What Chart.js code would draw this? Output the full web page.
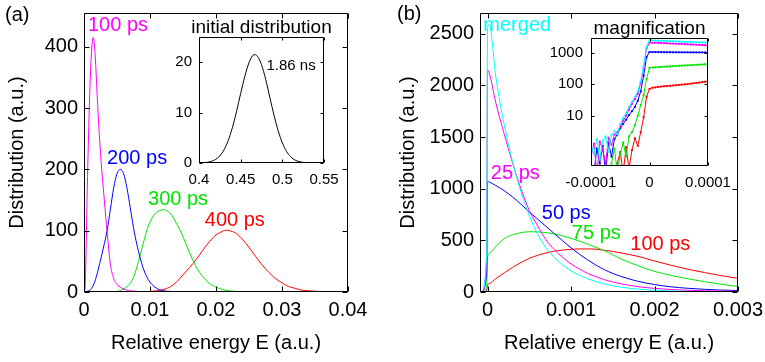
<!DOCTYPE html>
<html>
<head>
<meta charset="utf-8">
<title>Relative energy distributions</title>
<script src="https://cdn.jsdelivr.net/npm/chart.js@4.4.1/dist/chart.umd.min.js"></script>
<style>
  body { margin: 0; background: #fff; }
  #wrap { position: relative; width: 765px; height: 362px; overflow: hidden; }
  canvas { position: absolute; }
</style>
</head>
<body>
<div id="wrap">
  <canvas id="mainA" width="380" height="362" style="left:0;top:0"></canvas>
  <canvas id="mainB" width="385" height="362" style="left:380px;top:0"></canvas>
  <canvas id="insetA" width="200" height="180" style="left:150px;top:10px"></canvas>
  <canvas id="insetB" width="200" height="180" style="left:540px;top:10px"></canvas>
</div>
<script>
// ---- panel (a): distributions after 100..400 ps ----
const aX100 = [0, 0.0001, 0.0002, 0.0003, 0.0005, 0.0008, 0.0011, 0.0014, 0.0017, 0.002, 0.0023, 0.0027, 0.003, 0.0034, 0.0037, 0.004, 0.0044, 0.0048, 0.0055, 0.0065, 0.008, 0.01]
const aY100 = [0, 2, 15, 60, 170, 300, 385, 415, 385, 320, 260, 198, 160, 110, 75, 45, 25, 15, 8, 3, 1, 0]
const aX200 = [0, 0.0005, 0.001, 0.0015, 0.002, 0.0025, 0.003, 0.0035, 0.004, 0.0045, 0.005, 0.0055, 0.006, 0.0065, 0.007, 0.0075, 0.008, 0.0085, 0.009, 0.0095, 0.01, 0.011, 0.012, 0.013, 0.015]
const aY200 = [0, 1, 4, 13, 30, 52, 75, 100, 135, 170, 193, 200, 193, 170, 138, 105, 78, 56, 38, 25, 16, 6, 2, 1, 0]
const aX300 = [0, 0.003, 0.005, 0.006, 0.007, 0.0075, 0.008, 0.0085, 0.009, 0.0095, 0.01, 0.0105, 0.011, 0.0115, 0.012, 0.0125, 0.013, 0.0135, 0.014, 0.0145, 0.015, 0.0155, 0.016, 0.0165, 0.017, 0.0175, 0.018, 0.019, 0.02, 0.021, 0.022, 0.023, 0.025]
const aY300 = [0, 0, 1, 5, 14, 24, 40, 60, 80, 100, 114, 124, 130, 133, 134, 133, 129, 122, 112, 102, 90, 77, 64, 52, 41, 32, 25, 14, 8, 4, 2, 1, 0]
const aX400 = [0, 0.008, 0.01, 0.011, 0.012, 0.013, 0.014, 0.015, 0.016, 0.017, 0.018, 0.019, 0.02, 0.021, 0.0215, 0.022, 0.023, 0.024, 0.025, 0.026, 0.027, 0.028, 0.029, 0.03, 0.031, 0.032, 0.033, 0.034, 0.036, 0.038, 0.04]
const aY400 = [0, 0, 1, 2, 4, 8, 16, 28, 40, 53, 68, 82, 93, 99, 101, 100, 96, 86, 73, 58, 44, 32, 22, 15, 9, 6, 3, 2, 0.5, 0, 0]
const aXTicks = [0, 0.01, 0.02, 0.03, 0.04]
const aYTicks = [0, 100, 200, 300, 400]

// inset (a): initial distribution
const iaX = [0.4, 0.41, 0.415, 0.42, 0.425, 0.43, 0.435, 0.44, 0.445, 0.45, 0.455, 0.46, 0.465, 0.467, 0.47, 0.475, 0.48, 0.485, 0.49, 0.495, 0.5, 0.505, 0.51, 0.515, 0.52, 0.525, 0.53, 0.54, 0.55]
const iaY = [0.02, 0.14, 0.33, 0.71, 1.41, 2.61, 4.43, 6.98, 10.2, 13.8, 17.2, 19.9, 21.4, 21.5, 21.2, 19.5, 16.6, 13.0, 9.5, 6.4, 4.0, 2.3, 1.24, 0.61, 0.28, 0.12, 0.05, 0.01, 0]
const iaXTicks = [0.4, 0.45, 0.5, 0.55]
const iaYTicks = [0, 10, 20]

// ---- panel (b): distributions after 25..100 ps and merged ----
const bX = [-0.00007, -0.00001, 0, 0.00002, 0.0001, 0.0002, 0.0003, 0.0004, 0.0005, 0.0006, 0.0007, 0.0008, 0.0009, 0.001, 0.0011, 0.0012, 0.0013, 0.0014, 0.0015, 0.0016, 0.0018, 0.002, 0.0022, 0.0024, 0.0026, 0.0028, 0.003]
const bMerged = [1, 380, 2550, 2590, 2080, 1620, 1260, 970, 740, 560, 430, 335, 262, 205, 162, 128, 100, 78, 61, 47, 28, 17, 10, 6, 4, 2, 1]
const b25 = [1, 330, 2150, 2120, 1830, 1530, 1250, 1000, 790, 640, 505, 410, 335, 272, 222, 180, 147, 119, 97, 79, 52, 35, 24, 17, 12, 9, 7]
const b50 = [0.5, 190, 1070, 1065, 1030, 980, 920, 850, 775, 705, 635, 565, 495, 428, 366, 310, 260, 216, 180, 150, 104, 72, 50, 36, 26, 19, 14]
const b75 = [0.3, 45, 335, 370, 440, 515, 553, 574, 583, 582, 575, 562, 543, 520, 493, 463, 432, 400, 360, 320, 255, 200, 160, 128, 100, 75, 53]
const b100 = [0, 9, 70, 80, 130, 185, 238, 285, 325, 355, 378, 395, 406, 413, 417, 417, 414, 403, 393, 378, 345, 300, 258, 220, 188, 158, 132]
const bXTicks = [0, 0.001, 0.002, 0.003]
const bYTicks = [0, 500, 1000, 1500, 2000, 2500]

// inset (b): magnification around E = 0, log scale
const ibX = [-0.0001, -0.000095, -0.00009, -0.000085, -0.00008, -0.000075, -0.00007, -0.000065, -0.00006, -0.000055, -0.00005,
  -0.000045, -0.00004, -0.000035, -0.00003, -0.000025, -0.00002, -0.000015, -0.00001, -0.000005, 0,
  0.000005, 0.00001, 0.000015, 0.00002, 0.000025, 0.00003, 0.000035, 0.00004, 0.000045, 0.00005,
  0.000055, 0.00006, 0.000065, 0.00007, 0.000075, 0.00008, 0.000085, 0.00009, 0.000095, 0.0001]
const ibMerged = [1.2, 0.6, 1.8, 0.4, 1.6, 2.2, 0.7, 2.4, 3.2, 2.6, 5.5, 8.5, 12, 19, 28, 40, 60, 130, 380, 1600, 2550,
  2520, 2490, 2460, 2440, 2420, 2400, 2380, 2350, 2330, 2310, 2290, 2270, 2250, 2240, 2220, 2200, 2190, 2170, 2160, 2150]
const ib25 = [0.5, 1.3, 0.15, 1.5, 0.8, 0.3, 2, 1.2, 2.5, 3, 4.5, 7, 10, 16, 24, 34, 50, 110, 330, 1400, 2150,
  2130, 2110, 2090, 2070, 2050, 2030, 2010, 1990, 1970, 1950, 1930, 1910, 1890, 1870, 1850, 1830, 1810, 1790, 1770, 1750]
const ib50 = [null, 0.15, 0.9, 0.3, 1.1, 0.15, 1.4, 0.5, 1.8, 2.5, 4, 5.5, 7.5, 10.5, 14, 19, 30, 60, 190, 750, 1070,
  1068, 1066, 1064, 1062, 1060, 1058, 1056, 1054, 1052, 1050, 1049, 1048, 1047, 1046, 1045, 1044, 1043, 1042, 1041, 1040]
const ib75 = [null, null, null, null, null, null, null, 0.3, 0.9, 0.15, 0.6, 1.4, 0.5, 2.2, 3, 5, 10, 22, 45, 150, 335,
  345, 350, 355, 360, 365, 370, 375, 380, 385, 390, 395, 400, 405, 410, 415, 420, 425, 430, 435, 440]
const ib100 = [null, null, null, null, null, null, null, null, null, 0.3, 0.7, 0.15, 1, 0.2, 0.8, 1.9, 1.1, 3, 9, 40, 72,
  78, 80, 83, 85, 87, 89, 90, 92, 94, 96, 98, 100, 102, 105, 108, 111, 114, 118, 121, 124]
const ibXTicks = [-0.0001, 0, 0.0001]
const ibYTicks = [10, 100, 1000]

const FONT = '"Liberation Sans", Arial, Helvetica, sans-serif'
const MAG = '#ff00ff'
const BLU = '#0000ff'
const GRN = '#00e600'
const RED = '#ff0000'
const CYN = '#00ffff'

// box around the plot with inward ticks, plus text labels
function frame(cfg) {
  return {
    id: 'frame',
    beforeDatasetsDraw(chart) {
      if (!cfg.white) return
      const a = chart.chartArea
      chart.ctx.save()
      chart.ctx.fillStyle = '#fff'
      chart.ctx.fillRect(a.left, a.top, a.right - a.left, a.bottom - a.top)
      chart.ctx.restore()
    },
    afterDraw(chart) {
      const ctx = chart.ctx
      const a = chart.chartArea
      const sx = chart.scales.x
      const sy = chart.scales.y
      const L = cfg.tick
      const l = Math.round(a.left) + 0.5
      const r = Math.round(a.right) - 0.5
      const t = Math.round(a.top) + 0.5
      const b = Math.round(a.bottom) - 0.5
      ctx.save()
      ctx.strokeStyle = '#000'
      ctx.lineWidth = 1
      ctx.beginPath()
      ctx.rect(l, t, r - l, b - t)
      sx.ticks.forEach(tk => {
        const p = Math.round(sx.getPixelForValue(tk.value)) + 0.5
        ctx.moveTo(p, b); ctx.lineTo(p, b - L)
        ctx.moveTo(p, t); ctx.lineTo(p, t + L)
      })
      sy.ticks.forEach(tk => {
        const p = Math.round(sy.getPixelForValue(tk.value)) + 0.5
        ctx.moveTo(l, p); ctx.lineTo(l + L, p)
        ctx.moveTo(r, p); ctx.lineTo(r - L, p)
      })
      ctx.stroke()

      ctx.textBaseline = 'middle'
      if (cfg.title) {
        ctx.font = cfg.title.size + 'px ' + FONT
        ctx.fillStyle = '#000'
        ctx.textAlign = 'center'
        ctx.fillText(cfg.title.text, (a.left + a.right) / 2, a.top - cfg.title.gap)
      }
      if (cfg.panel) {
        ctx.font = '20px ' + FONT
        ctx.fillStyle = '#000'
        ctx.textAlign = 'left'
        ctx.fillText(cfg.panel.text, cfg.panel.left, cfg.panel.mid)
      }
      const notes = cfg.notes || []
      notes.forEach(n => {
        ctx.font = n.size + 'px ' + FONT
        ctx.fillStyle = n.color
        ctx.textAlign = 'left'
        ctx.fillText(n.text, sx.getPixelForValue(n.x), sy.getPixelForValue(n.y))
      })
      ctx.restore()
    }
  }
}

function axis(o) {
  return {
    type: o.type || 'linear',
    position: o.position,
    min: o.min,
    max: o.max,
    grid: { display: false, drawTicks: false },
    border: { display: false },
    ticks: {
      padding: o.pad,
      color: '#000',
      font: { family: FONT, size: o.size },
      maxRotation: 0,
      autoSkip: false,
      callback: v => String(v)
    },
    title: o.title
      ? { display: true, text: o.title, color: '#000', font: { family: FONT, size: 20 }, padding: o.titlePad }
      : { display: false },
    afterBuildTicks: s => { s.ticks = o.ticks.map(v => ({ value: v })) },
    afterFit: s => {
      if (o.position === 'bottom') {
        s.height = o.fit
        s.paddingLeft = 0
        s.paddingRight = 0
      } else {
        s.width = o.fit
        s.paddingTop = 0
        s.paddingBottom = 0
      }
    }
  }
}

function line(xs, ys, color, extra) {
  return Object.assign({
    data: xs.map((x, i) => ({ x: x, y: ys[i] })),
    borderColor: color,
    backgroundColor: color,
    borderWidth: 1,
    pointRadius: 0,
    fill: false,
    cubicInterpolationMode: 'monotone'
  }, extra || {})
}

const common = {
  responsive: false,
  animation: false,
  events: [],
  plugins: { legend: { display: false }, tooltip: { enabled: false } }
}

new Chart(document.getElementById('mainA'), {
  type: 'line',
  data: {
    datasets: [
      line(aX100, aY100, MAG),
      line(aX200, aY200, BLU),
      line(aX300, aY300, GRN),
      line(aX400, aY400, RED)
    ]
  },
  options: Object.assign({}, common, {
    layout: { padding: { left: 0, top: 13, right: 32, bottom: 0 } },
    scales: {
      x: axis({ position: 'bottom', min: 0, max: 0.04, ticks: aXTicks, size: 20, pad: 6, fit: 70,
        title: 'Relative energy E (a.u.)', titlePad: { top: 0, bottom: 7 } }),
      y: axis({ position: 'left', min: 0, max: 455, ticks: aYTicks, size: 20, pad: 6, fit: 84,
        title: 'Distribution (a.u.)', titlePad: { top: 5, bottom: 0 } })
    }
  }),
  plugins: [frame({
    tick: 5,
    panel: { text: '(a)', left: 5, mid: 15 },
    notes: [
      { text: '100 ps', x: 0.0006, y: 434, color: MAG, size: 20 },
      { text: '200 ps', x: 0.0035, y: 218, color: BLU, size: 20 },
      { text: '300 ps', x: 0.0097, y: 151, color: GRN, size: 20 },
      { text: '400 ps', x: 0.0183, y: 117, color: RED, size: 20 }
    ]
  })]
})

new Chart(document.getElementById('mainB'), {
  type: 'line',
  data: {
    datasets: [
      line(bX, bMerged, CYN),
      line(bX, b25, MAG),
      line(bX, b50, BLU),
      line(bX, b75, GRN),
      line(bX, b100, RED)
    ]
  },
  options: Object.assign({}, common, {
    layout: { padding: { left: 0, top: 13, right: 27, bottom: 0 } },
    scales: {
      x: axis({ position: 'bottom', min: -0.00009, max: 0.003, ticks: bXTicks, size: 20, pad: 6, fit: 70,
        title: 'Relative energy E (a.u.)', titlePad: { top: 0, bottom: 7 } }),
      y: axis({ position: 'left', min: 0, max: 2700, ticks: bYTicks, size: 20, pad: 6, fit: 100,
        title: 'Distribution (a.u.)', titlePad: { top: 16, bottom: 0 } })
    }
  }),
  plugins: [frame({
    tick: 5,
    panel: { text: '(b)', left: 17, mid: 14 },
    notes: [
      { text: 'merged', x: -0.00005, y: 2582, color: CYN, size: 20 },
      { text: '25 ps', x: 0.00004, y: 1148, color: MAG, size: 20 },
      { text: '50 ps', x: 0.00065, y: 761, color: BLU, size: 20 },
      { text: '75 ps', x: 0.00101, y: 568, color: GRN, size: 20 },
      { text: '100 ps', x: 0.00171, y: 455, color: RED, size: 20 }
    ]
  })]
})

new Chart(document.getElementById('insetA'), {
  type: 'line',
  data: { datasets: [line(iaX, iaY, '#000')] },
  options: Object.assign({}, common, {
    layout: { padding: { left: 0, top: 27, right: 26, bottom: 0 } },
    scales: {
      x: axis({ position: 'bottom', min: 0.4, max: 0.55, ticks: iaXTicks, size: 15, pad: 8, fit: 27 }),
      y: axis({ position: 'left', min: 0, max: 25, ticks: iaYTicks, size: 15, pad: 7, fit: 49 })
    }
  }),
  plugins: [frame({
    tick: 3,
    white: true,
    title: { text: 'initial distribution', size: 19, gap: 9 },
    notes: [{ text: '1.86 ns', x: 0.481, y: 19.2, color: '#000', size: 15 }]
  })]
})

const dots = { cubicInterpolationMode: 'default', tension: 0, pointRadius: 1.4, pointStyle: 'rect', pointBorderWidth: 0, spanGaps: false }
new Chart(document.getElementById('insetB'), {
  type: 'line',
  data: {
    datasets: [
      line(ibX, ibMerged, CYN, dots),
      line(ibX, ib25, MAG, dots),
      line(ibX, ib50, BLU, dots),
      line(ibX, ib75, GRN, dots),
      line(ibX, ib100, RED, dots)
    ]
  },
  options: Object.assign({}, common, {
    layout: { padding: { left: 0, top: 28, right: 32, bottom: 0 } },
    scales: {
      x: axis({ position: 'bottom', min: -0.0001, max: 0.0001, ticks: ibXTicks, size: 15, pad: 8, fit: 24 }),
      y: axis({ type: 'logarithmic', position: 'left', min: 0.25, max: 3000, ticks: ibYTicks, size: 15, pad: 8, fit: 51 })
    }
  }),
  plugins: [frame({
    tick: 3,
    white: true,
    title: { text: 'magnification', size: 19, gap: 9 }
  })]
})
</script>
</body>
</html>
